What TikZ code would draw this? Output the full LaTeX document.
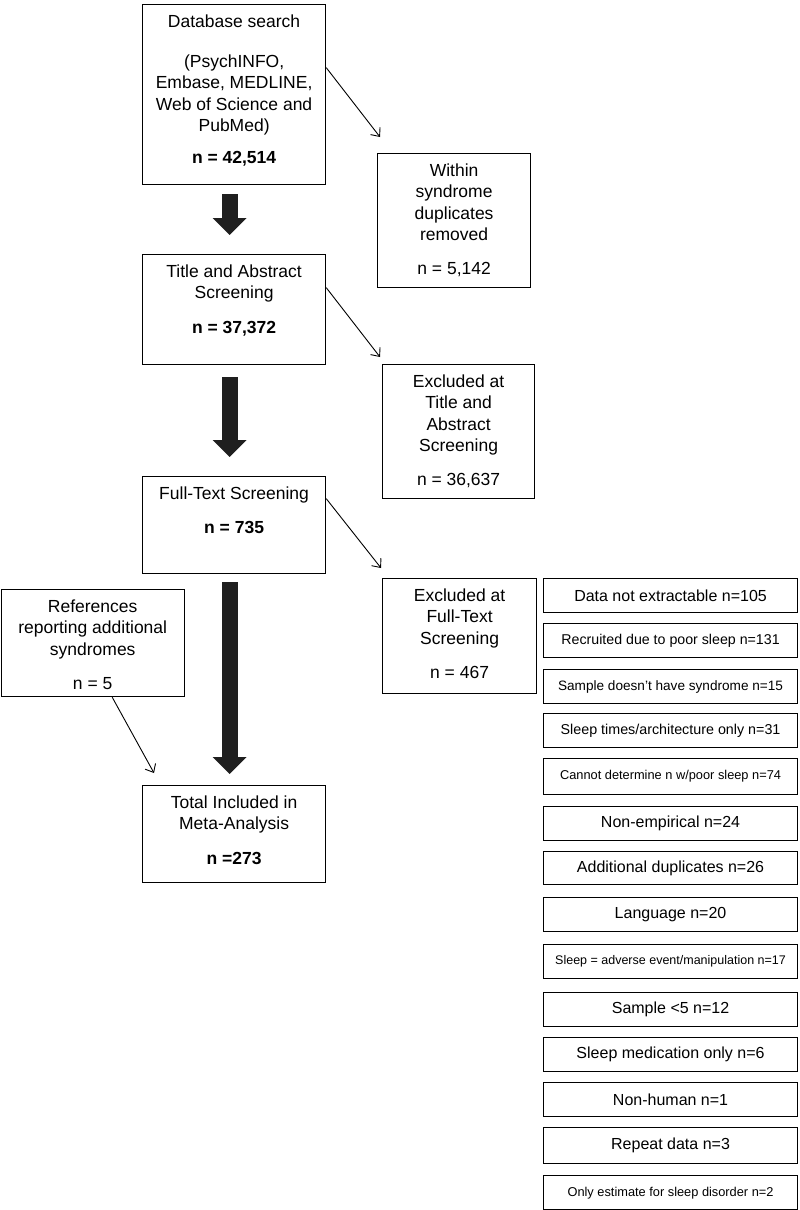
\documentclass[tikz,border=0pt]{standalone}
\usepackage{fontspec}
\setmainfont{Liberation Sans}
\usetikzlibrary{arrows.meta}

\newcommand{\boxtext}[3]{\parbox[c][#2][t]{#1}{\centering\fontsize{17.5}{21.5}\selectfont\vspace*{10pt}#3}}

\begin{document}
\begin{tikzpicture}[x=1pt, y=-1pt,
  stage/.style={draw, line width=1.2pt, inner sep=0pt, anchor=north west},
  reason/.style={draw, line width=1.1pt, inner sep=0pt, anchor=north west, minimum width=254pt, minimum height=34pt, font=\fontsize{16}{19}\selectfont},
  bigarrow/.style={line width=16pt, draw=black!88, -{Triangle[length=17pt,width=33pt]}},
  sidearrow/.style={line width=0.9pt, -{Straight Barb[length=7pt,width=12pt]}}]
\useasboundingbox (0,0) rectangle (800,1210);

\node[stage] (db) at (142,4) {\boxtext{183pt}{180pt}{Database search\\[18.5pt] (PsychINFO,\\ Embase, MEDLINE,\\ Web of Science and\\ PubMed)\\[10pt] \textbf{n = 42,514}}};
\node[stage] (title_abs) at (142,254) {\boxtext{183pt}{110pt}{Title and Abstract\\ Screening\\[13pt] \textbf{n = 37,372}}};
\node[stage] (full_text) at (142,476) {\boxtext{183pt}{97pt}{Full-Text Screening\\[13pt] \textbf{n = 735}}};
\node[stage] (total) at (142,785) {\boxtext{183pt}{97pt}{Total Included in\\ Meta-Analysis\\[13pt] \textbf{n =273}}};
\node[stage] (refs) at (0.6,589) {\boxtext{183pt}{107pt}{References\\ reporting additional\\ syndromes\\[13pt] n = 5}};

\node[stage] (dup) at (377,153) {\boxtext{153pt}{134pt}{Within\\ syndrome\\ duplicates\\ removed\\[12.5pt] n = 5,142}};
\node[stage] (excl_ta) at (382,364) {\boxtext{152pt}{134pt}{Excluded at\\ Title and\\ Abstract\\ Screening\\[12.5pt] n = 36,637}};
\node[stage] (excl_ft) at (382,578) {\boxtext{154pt}{115pt}{Excluded at\\ Full-Text\\ Screening\\[12.5pt] n = 467}};

\node[reason] (r1) at (543,578) {Data not extractable n=105};
\node[reason, font=\fontsize{14.2}{17}\selectfont] (r2) at (543,623) {Recruited due to poor sleep n=131};
\node[reason, font=\fontsize{13.6}{16}\selectfont] (r3) at (543,669) {Sample doesn’t have syndrome n=15};
\node[reason, font=\fontsize{14.3}{17}\selectfont] (r4) at (543,713) {Sleep times/architecture only n=31};
\node[reason, minimum height=36pt, font=\fontsize{12.8}{15}\selectfont] (r5) at (543,758) {Cannot determine n w/poor sleep n=74};
\node[reason] (r6) at (543,806) {Non-empirical n=24};
\node[reason, minimum height=33pt] (r7) at (543,851) {Additional duplicates n=26};
\node[reason] (r8) at (543,897) {Language n=20};
\node[reason, font=\fontsize{12.5}{15}\selectfont] (r9) at (543,944) {Sleep = adverse event/manipulation n=17};
\node[reason] (r10) at (543,992) {Sample <5 n=12};
\node[reason] (r11) at (543,1037) {Sleep medication only n=6};
\node[reason] (r12) at (543,1082) {Non-human n=1};
\node[reason, minimum height=36pt] (r13) at (543,1127) {Repeat data n=3};
\node[reason, minimum height=34.4pt, font=\fontsize{12.8}{15}\selectfont] (r14) at (543,1175) {Only estimate for sleep disorder n=2};

\draw[bigarrow, shorten <=9pt, shorten >=19pt] ([xshift=-4.5pt]db.south) -- ([xshift=-4.5pt]title_abs.north);
\draw[bigarrow, shorten <=12pt, shorten >=19pt] ([xshift=-4.5pt]title_abs.south) -- ([xshift=-4.5pt]full_text.north);
\draw[bigarrow, shorten <=8pt, shorten >=11pt] ([xshift=-4.5pt]full_text.south) -- ([xshift=-4.5pt]total.north);

\draw[sidearrow] ([yshift=27pt]db.east) -- ([xshift=3pt,yshift=16pt]dup.north west);
\draw[sidearrow] ([yshift=22pt]title_abs.east) -- ([xshift=-2pt,yshift=7pt]excl_ta.north west);
\draw[sidearrow] ([yshift=26.5pt]full_text.east) -- ([xshift=-1pt,yshift=10pt]excl_ft.north west);
\draw[sidearrow] ([xshift=19.5pt]refs.south) -- ([xshift=12pt,yshift=12pt]total.north west);
\end{tikzpicture}
\end{document}
